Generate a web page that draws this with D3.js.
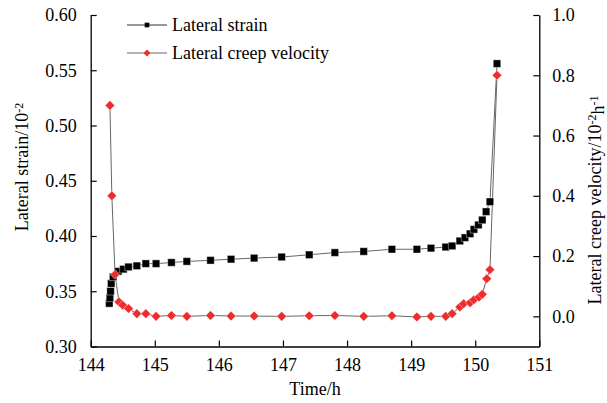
<!DOCTYPE html>
<html>
<head>
<meta charset="utf-8">
<script src="https://cdn.jsdelivr.net/npm/d3@7/dist/d3.min.js"></script>
<style>
  html, body { margin: 0; padding: 0; background: #fff; }
  svg { display: block; font-family: "Liberation Serif", "Times New Roman", serif; }
</style>
</head>
<body>
<svg id="chart" width="607" height="403"></svg>
<script>
// Lateral strain record (time in hours, strain in 10^-2)
const strainTime = [144.29, 144.30, 144.31, 144.32, 144.35, 144.43, 144.51, 144.59, 144.72, 144.86,
  145.02, 145.26, 145.50, 145.87, 146.19, 146.55, 146.98, 147.41, 147.81, 148.26,
  148.70, 149.09, 149.31, 149.54, 149.64, 149.76, 149.84, 149.92, 149.98, 150.05,
  150.11, 150.17, 150.23, 150.34];
const strainValue = [0.339, 0.344, 0.350, 0.357, 0.363, 0.368, 0.370, 0.372, 0.373, 0.375,
  0.375, 0.376, 0.377, 0.378, 0.379, 0.380, 0.381, 0.383, 0.385, 0.386,
  0.388, 0.388, 0.389, 0.390, 0.391, 0.3955, 0.3985, 0.402, 0.406, 0.410,
  0.4145, 0.422, 0.431, 0.556];

// Lateral creep velocity (time in hours, velocity in 10^-2 h^-1)
const velocityTime = [144.30, 144.33, 144.38, 144.44, 144.50, 144.59, 144.72, 144.86, 145.02, 145.26,
  145.50, 145.87, 146.19, 146.55, 146.98, 147.41, 147.81, 148.26, 148.70, 149.09,
  149.31, 149.54, 149.64, 149.76, 149.82, 149.92, 149.98, 150.06, 150.11, 150.18,
  150.23, 150.34];
const velocityValue = [0.70, 0.40, 0.139, 0.048, 0.037, 0.026, 0.009, 0.009, 0.000, 0.003,
  0.000, 0.003, 0.001, 0.001, 0.000, 0.002, 0.003, 0.000, 0.002, -0.002,
  0.000, 0.000, 0.009, 0.031, 0.042, 0.045, 0.055, 0.064, 0.073, 0.125,
  0.155, 0.80];

const xTicks = [144, 145, 146, 147, 148, 149, 150, 151];
const leftTicks = [0.30, 0.35, 0.40, 0.45, 0.50, 0.55, 0.60];
const rightTicks = [0.0, 0.2, 0.4, 0.6, 0.8, 1.0];
const seriesNames = ["Lateral strain", "Lateral creep velocity"];

const svg = d3.select("#chart");
const plot = { left: 90.7, right: 539.3, top: 15, bottom: 346.5 };
const lineColor = "#666";
const red = "#ee2c2c";

const x = d3.scaleLinear().domain([144, 151]).range([plot.left, plot.right]);
const yL = d3.scaleLinear().domain([0.30, 0.60]).range([plot.bottom, plot.top]);
const yR = d3.scaleLinear().domain([-0.1, 1.0]).range([plot.bottom, plot.top]);

const fontSize = 18;

// Axes with inward ticks
const gx = svg.append("g").attr("transform", `translate(0,${plot.bottom})`)
  .call(d3.axisBottom(x).tickValues(xTicks).tickSizeInner(-6).tickSizeOuter(0).tickPadding(14).tickFormat(d3.format("d")));
const gl = svg.append("g").attr("transform", `translate(${plot.left},0)`)
  .call(d3.axisLeft(yL).tickValues(leftTicks).tickSizeInner(-6).tickSizeOuter(0).tickPadding(14).tickFormat(d3.format(".2f")));
const gr = svg.append("g").attr("transform", `translate(${plot.right},0)`)
  .call(d3.axisRight(yR).tickValues(rightTicks).tickSizeInner(-6).tickSizeOuter(0).tickPadding(13).tickFormat(d3.format(".1f")));

[gx, gl, gr].forEach(g => {
  g.selectAll("path.domain").attr("stroke", "#000").attr("stroke-width", 1.3);
  g.selectAll(".tick line").attr("stroke", "#000").attr("stroke-width", 1.2);
  g.selectAll(".tick text").attr("fill", "#000")
    .style("font-family", '"Liberation Serif", serif').style("font-size", fontSize + "px");
});
gx.selectAll(".tick text").attr("dy", "0.6em");

// Axis titles
svg.append("text").attr("x", (plot.left + plot.right) / 2).attr("y", 395)
  .attr("text-anchor", "middle").style("font-size", fontSize + "px").text("Time/h");

const leftTitle = svg.append("text")
  .attr("transform", `translate(28,167) rotate(-90)`)
  .attr("text-anchor", "middle").style("font-size", fontSize + "px");
leftTitle.append("tspan").text("Lateral strain/10");
leftTitle.append("tspan").attr("dy", "-0.45em").style("font-size", "12px").text("-2");

const rightTitle = svg.append("text")
  .attr("transform", `translate(601,200) rotate(-90)`)
  .attr("text-anchor", "middle").style("font-size", fontSize + "px");
rightTitle.append("tspan").text("Lateral creep velocity/10");
rightTitle.append("tspan").attr("dy", "-0.45em").style("font-size", "12px").text("-2");
rightTitle.append("tspan").attr("dy", "0.45em").text("h");
rightTitle.append("tspan").attr("dy", "-0.45em").style("font-size", "12px").text("-1");

// Series data
const strainData = strainTime.map((t, i) => ({ t, v: strainValue[i] }));
const velocityData = velocityTime.map((t, i) => ({ t, v: velocityValue[i] }));

const strainLine = d3.line().x(d => x(d.t)).y(d => yL(d.v));
const velocityLine = d3.line().x(d => x(d.t)).y(d => yR(d.v));

svg.append("path").datum(strainData).attr("d", strainLine)
  .attr("fill", "none").attr("stroke", lineColor).attr("stroke-width", 1);
svg.append("path").datum(velocityData).attr("d", velocityLine)
  .attr("fill", "none").attr("stroke", lineColor).attr("stroke-width", 1);

// Square markers; diamonds are squares turned by 45 degrees
const square = d3.symbol().type(d3.symbolSquare).size(56);
const diamond = d3.symbol().type(d3.symbolSquare).size(46);

svg.append("g").selectAll("path").data(strainData).join("path")
  .attr("d", square)
  .attr("transform", d => `translate(${x(d.t)},${yL(d.v)})`)
  .attr("fill", "#000").attr("stroke", "#fff").attr("stroke-width", 0.4);

svg.append("g").selectAll("path").data(velocityData).join("path")
  .attr("d", diamond)
  .attr("transform", d => `translate(${x(d.t)},${yR(d.v)}) rotate(45)`)
  .attr("fill", red).attr("stroke", "#fff").attr("stroke-width", 0.4);

// Legend
const legend = svg.append("g");
const legendRows = [
  { name: seriesNames[0], y: 25, sym: d3.symbol().type(d3.symbolSquare).size(22), rot: 0, fill: "#000" },
  { name: seriesNames[1], y: 53, sym: d3.symbol().type(d3.symbolSquare).size(24), rot: 45, fill: red }
];
legendRows.forEach(r => {
  legend.append("line").attr("x1", 127).attr("x2", 167).attr("y1", r.y).attr("y2", r.y)
    .attr("stroke", r.fill === "#000" ? "#333" : lineColor).attr("stroke-width", 1);
  legend.append("path").attr("d", r.sym)
    .attr("transform", `translate(147,${r.y}) rotate(${r.rot})`).attr("fill", r.fill);
  legend.append("text").attr("x", 172).attr("y", r.y).attr("dy", "0.35em")
    .style("font-size", fontSize + "px").text(r.name);
});
</script>
</body>
</html>
